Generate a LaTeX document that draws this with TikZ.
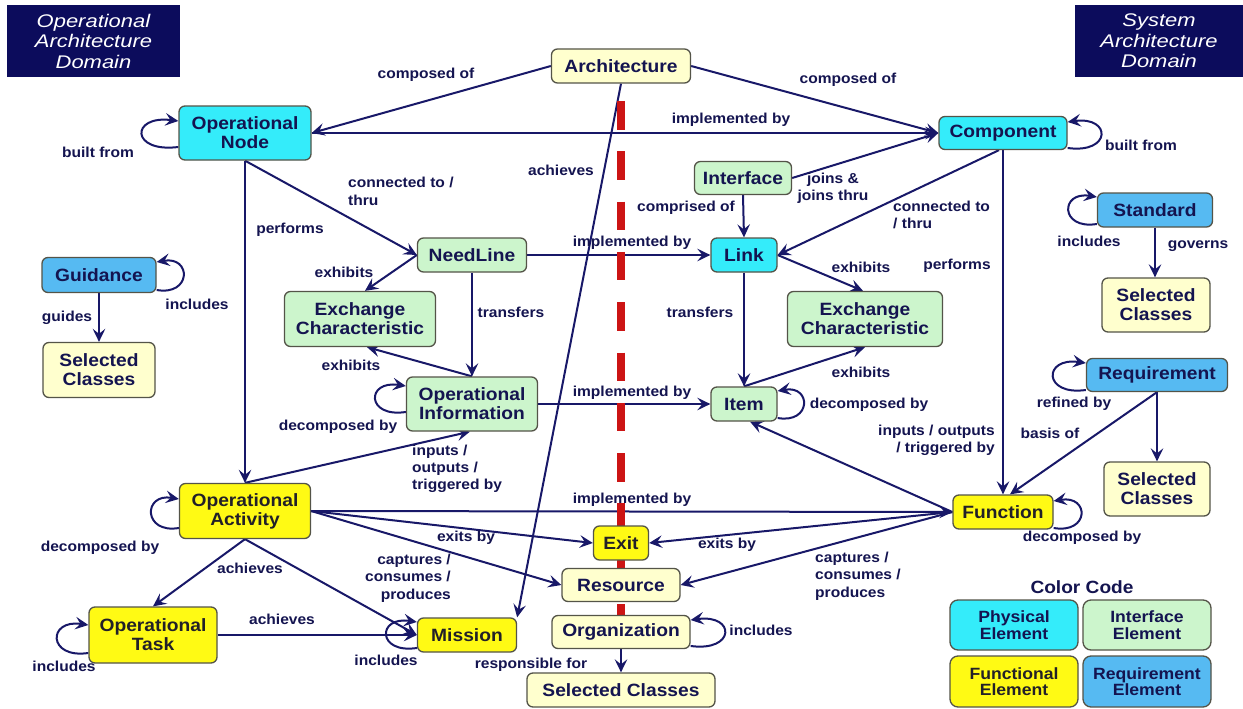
\documentclass[tikz,border=0pt]{standalone}
\usepackage{fontspec}
\setmainfont{Liberation Sans}[FakeStretch=1.08]
\newfontfamily\domfont{Liberation Sans}[FakeStretch=1.2]
\usetikzlibrary{arrows.meta,calc}

\definecolor{navytext}{RGB}{20,20,80}
\definecolor{darktext}{RGB}{34,32,40}
\definecolor{linecol}{RGB}{24,24,104}
\definecolor{boxedge}{RGB}{84,84,72}
\definecolor{physcol}{RGB}{52,236,250}
\definecolor{intfcol}{RGB}{204,245,204}
\definecolor{funccol}{RGB}{255,250,20}
\definecolor{selcol}{RGB}{255,255,206}
\definecolor{reqcol}{RGB}{86,186,242}
\definecolor{domcol}{RGB}{12,12,92}
\definecolor{divred}{RGB}{204,20,20}

\newcommand\nodefont{\fontsize{17.8}{19}\selectfont\bfseries}
\newcommand\lblfont{\fontsize{14.4}{17.3}\selectfont\bfseries}
\newcommand\legfont{\fontsize{16.3}{16.5}\selectfont\bfseries}
\newcommand\domtext{\domfont\itshape\fontsize{18.3}{20.5}\selectfont}

% self loops on the left / right side of a node: node, start dy, end dy, reach
\newcommand\selfloopL[4]{\draw[conn] ($(#1.west)+(0,#2)$) .. controls +(-#4,6) and +(-#4,-6) .. ($(#1.west)+(0,#3)$);}
\newcommand\selfloopR[4]{\draw[conn] ($(#1.east)+(0,#2)$) .. controls +(#4,6) and +(#4,-6) .. ($(#1.east)+(0,#3)$);}

\pgfdeclarelayer{back}
\pgfdeclarelayer{edges}
\pgfdeclarelayer{divider}
\pgfsetlayers{back,edges,divider,main}

\begin{document}
\begin{tikzpicture}[x=1pt,y=-1pt,
  box/.style={draw=boxedge,line width=1.3pt,rounded corners=6pt,align=center,
    inner sep=0pt,text=navytext,font=\nodefont},
  cyanbox/.style={box,fill=physcol},
  greenbox/.style={box,fill=intfcol},
  yellowbox/.style={box,fill=funccol,text=darktext},
  creambox/.style={box,fill=selcol},
  bluebox/.style={box,fill=reqcol},
  legbox/.style={font=\legfont,minimum width=128,rounded corners=8pt},
  dombox/.style={fill=domcol,text=white,align=center,inner sep=0pt,font=\domtext},
  lbl/.style={font=\lblfont,text=navytext,inner sep=0pt,align=center},
  conn/.style={draw=linecol,line width=2pt,
    -{Stealth[length=13pt,width=12.5pt,inset=5pt]}},
  divline/.style={draw=divred,line width=8pt,dash pattern=on 28.5pt off 21.8pt}
]
\useasboundingbox (0,0) rectangle (1243,709);
\begin{pgfonlayer}{back}
  \fill[white] (0,0) rectangle (1243,709);
\end{pgfonlayer}

% domain headers
\node[dombox,minimum width=173,minimum height=72] (domL) at (93.5,41) {Operational\\Architecture\\Domain};
\node[dombox,minimum width=168,minimum height=72] (domR) at (1159,41) {System\\Architecture\\Domain};

% elements
\node[creambox,minimum width=139,minimum height=34] (arch) at (621,66) {Architecture};
\node[cyanbox,minimum width=132,minimum height=54] (opnode) at (245,133) {Operational\\Node};
\node[cyanbox,minimum width=128,minimum height=33] (comp) at (1003,133) {Component};
\node[greenbox,minimum width=97,minimum height=33] (iface) at (743,178) {Interface};
\node[bluebox,minimum width=115,minimum height=34] (std) at (1155,210) {Standard};
\node[bluebox,minimum width=114,minimum height=35] (guid) at (99,275) {Guidance};
\node[creambox,minimum width=112,minimum height=55] (selA) at (99,370) {Selected\\Classes};
\node[greenbox,minimum width=109,minimum height=34] (need) at (472,255) {NeedLine};
\node[cyanbox,minimum width=66,minimum height=34] (link) at (744,255) {Link};
\node[greenbox,minimum width=151,minimum height=55] (exL) at (360,319) {Exchange\\Characteristic};
\node[greenbox,minimum width=155,minimum height=55] (exR) at (865,319) {Exchange\\Characteristic};
\node[creambox,minimum width=108,minimum height=54] (selB) at (1156,305) {Selected\\Classes};
\node[greenbox,minimum width=131,minimum height=54] (opinfo) at (472,404) {Operational\\Information};
\node[greenbox,minimum width=66,minimum height=34] (item) at (744,404) {Item};
\node[bluebox,minimum width=141,minimum height=33] (req) at (1157,375) {Requirement};
\node[creambox,minimum width=106,minimum height=54] (selC) at (1157,489) {Selected\\Classes};
\node[yellowbox,minimum width=131,minimum height=55] (opact) at (245,511) {Operational\\Activity};
\node[yellowbox,minimum width=100,minimum height=34] (func) at (1003,512) {Function};
\node[yellowbox,minimum width=55,minimum height=34] (exit) at (621,543) {Exit};
\node[creambox,minimum width=118,minimum height=33] (res) at (621,585) {Resource};
\node[creambox,minimum width=138,minimum height=33] (org) at (621,632) {Organization};
\node[creambox,minimum width=188,minimum height=34] (selD) at (621,690) {Selected Classes};
\node[yellowbox,minimum width=99,minimum height=34] (mission) at (467,635) {Mission};
\node[yellowbox,minimum width=128,minimum height=56] (optask) at (153,635) {Operational\\Task};

% colour legend
\node[font=\fontsize{17.7}{20}\selectfont\bfseries,text=navytext,inner sep=0pt] (cctitle) at (1082,587) {Color Code};
\node[cyanbox,legbox,minimum height=50] (lgphys) at (1014,625) {Physical\\Element};
\node[greenbox,legbox,minimum height=50] (lgintf) at (1147,625) {Interface\\Element};
\node[yellowbox,legbox,minimum height=51] (lgfunc) at (1014,681.5) {Functional\\Element};
\node[bluebox,legbox,minimum height=51] (lgreq) at (1147,681.5) {Requirement\\Element};

% relation labels
\node[lbl] (tComposedL) at (426,75) {composed of};
\node[lbl] (tComposedR) at (848,80) {composed of};
\node[lbl] (tImplTop) at (731,120) {implemented by};
\node[lbl] (tBuiltL) at (98,152) {built from};
\node[lbl] (tBuiltR) at (1141,145) {built from};
\node[lbl] (tAchArch) at (561,170) {achieves};
\node[lbl,align=left,anchor=west] (tConnL) at (348,191.5) {connected to /\\thru};
\node[lbl] (tPerfL) at (290,230) {performs};
\node[lbl] (tJoins) at (833,188) {joins \&\\joins thru};
\node[lbl] (tCompr) at (686,208) {comprised of};
\node[lbl,align=left,anchor=west] (tConnR) at (893,215) {connected to\\/ thru};
\node[lbl] (tPerfR) at (957,266) {performs};
\node[lbl] (tInclStd) at (1089,241) {includes};
\node[lbl] (tGoverns) at (1198,246) {governs};
\node[lbl] (tInclGuid) at (197,304) {includes};
\node[lbl] (tGuides) at (67,318) {guides};
\node[lbl] (tImplNeed) at (632,243) {implemented by};
\node[lbl] (tExhA) at (344,272) {exhibits};
\node[lbl] (tTransL) at (511,312) {transfers};
\node[lbl] (tExhB) at (351,365) {exhibits};
\node[lbl] (tExhC) at (861,267) {exhibits};
\node[lbl] (tTransR) at (700,312) {transfers};
\node[lbl] (tExhD) at (861,372) {exhibits};
\node[lbl] (tDecInfo) at (338,427) {decomposed by};
\node[lbl] (tImplInfo) at (632,393) {implemented by};
\node[lbl] (tDecItem) at (869,405) {decomposed by};
\node[lbl,align=left,anchor=west] (tIOL) at (412,469) {inputs /\\outputs /\\triggered by};
\node[lbl,align=right,anchor=east] (tIOR) at (995,440) {inputs / outputs\\/ triggered by};
\node[lbl] (tRefined) at (1074,404) {refined by};
\node[lbl] (tBasis) at (1050,433) {basis of};
\node[lbl] (tImplAct) at (632,500) {implemented by};
\node[lbl] (tExitL) at (466,538) {exits by};
\node[lbl] (tExitR) at (727,545) {exits by};
\node[lbl,align=right,anchor=east] (tCapL) at (451,578) {captures /\\consumes /\\produces};
\node[lbl,align=left,anchor=west] (tCapR) at (815,576) {captures /\\consumes /\\produces};
\node[lbl] (tDecAct) at (100,548) {decomposed by};
\node[lbl] (tDecFunc) at (1082,538) {decomposed by};
\node[lbl] (tAchTask) at (250,568) {achieves};
\node[lbl] (tAchMis) at (282,619) {achieves};
\node[lbl] (tInclTask) at (64,666) {includes};
\node[lbl] (tInclMis) at (386,660) {includes};
\node[lbl] (tInclOrg) at (761,630) {includes};
\node[lbl] (tResp) at (531,665) {responsible for};

% domain divider
\coordinate (divtop) at (621,101);
\coordinate (divbot) at (621,632);
\begin{pgfonlayer}{divider}
  \draw[divline] (divtop) -- (divbot);
\end{pgfonlayer}

% relations
\begin{pgfonlayer}{edges}
  \draw[conn] (arch.west) -- (opnode.east);
  \draw[conn] (arch.east) -- (comp.west);
  \draw[conn] (opnode.east) -- (comp.west);
  \draw[conn] (arch.south) -- (mission.north east);
  \draw[conn] (opnode.south) -- (need.west);
  \draw[conn] (opnode.south) -- (opact.north);
  \draw[conn] (iface.east) -- (comp.west);
  \draw[conn] (iface.south) -- (link.north);
  \draw[conn] ($(comp.south)+(-4,0)$) -- (link.east);
  \draw[conn] (comp.south) -- (func.north);
  \draw[conn] (std.south) -- (std.south |- selB.north);
  \draw[conn] (guid.south) -- (guid.south |- selA.north);
  \draw[conn] (need.east) -- (link.west);
  \draw[conn] (need.west) -- ($(exL.north)+(5,0)$);
  \draw[conn] (need.south) -- (opinfo.north);
  \draw[conn] (opinfo.north) -- ($(exL.south)+(7,0)$);
  \draw[conn] (link.east) -- ($(exR.north)+(-2,0)$);
  \draw[conn] (link.south) -- (item.north);
  \draw[conn] (item.north) -- (exR.south);
  \draw[conn] (opinfo.east) -- (item.west);
  \draw[conn] (opact.north) -- ($(opinfo.south)+(-2,0)$);
  \draw[conn] (func.west) -- ($(item.south)+(6,0)$);
  \draw[conn] (req.south) -- ($(func.north)+(7,0)$);
  \draw[conn] (req.south) -- (req.south |- selC.north);
  \draw[conn] (opact.east) -- (func.west);
  \draw[conn] (opact.east) -- (exit.west);
  \draw[conn] (func.west) -- (exit.east);
  \draw[conn] (opact.east) -- (res.west);
  \draw[conn] (func.west) -- (res.east);
  \draw[conn] (opact.south) -- (optask.north);
  \draw[conn] (opact.south) -- (mission.west);
  \draw[conn] (optask.east) -- (mission.west);
  \draw[conn] (org.south) -- (selD.north);
  % self relations
  \selfloopL{opnode}{14}{-12}{48}
  \selfloopR{comp}{15}{-11}{44}
  \selfloopL{std}{14}{-13}{37}
  \selfloopR{guid}{15}{-13}{35}
  \selfloopL{opinfo}{8}{-18}{40}
  \selfloopR{item}{14}{-13}{34}
  \selfloopL{req}{15}{-12}{43}
  \selfloopR{func}{16}{-11}{36}
  \selfloopL{opact}{17}{-12}{36}
  \selfloopL{optask}{18}{-10}{41}
  \selfloopL{mission}{13}{-13}{40}
  \selfloopR{org}{14}{-12}{45}
\end{pgfonlayer}
\end{tikzpicture}
\end{document}
